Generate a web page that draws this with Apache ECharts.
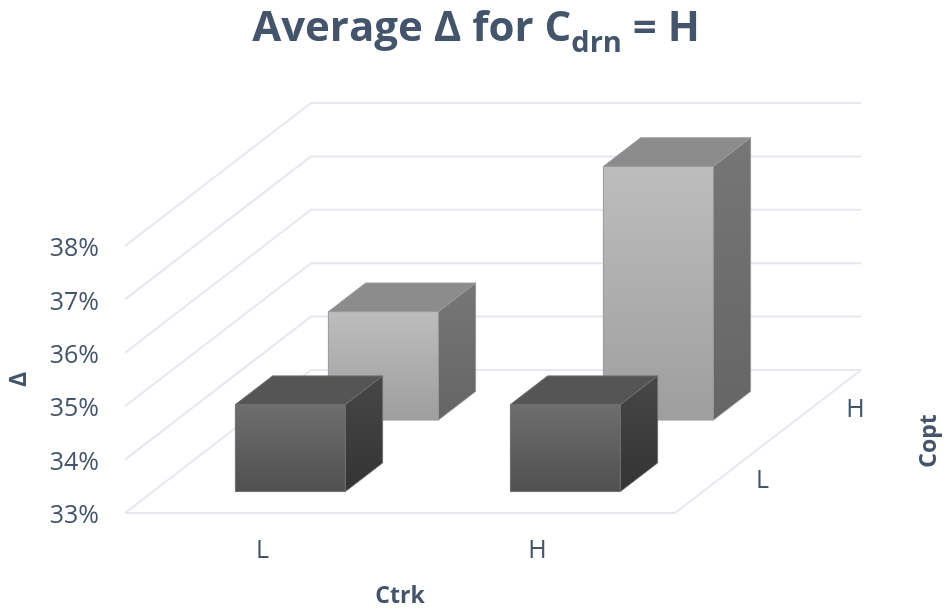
<!DOCTYPE html>
<html>
<head>
<meta charset="utf-8">
<style>
  html, body { margin: 0; padding: 0; background: #fff; }
  #box { width: 945px; height: 609px; }
</style>
</head>
<body>
<div id="box"></div>
<script src="https://cdn.jsdelivr.net/npm/echarts@6/dist/echarts.min.js"></script>
<script>
const ctrk = ['L', 'H'];
const copt = ['L', 'H'];
const yTicks = [33, 34, 35, 36, 37, 38];
const coptL = [34.63, 34.63];
const coptH = [35.03, 37.75];

const textColor = '#44546A';
const font = '"Open Sans"';
const wallColor = '#E5E8EF';
// how far the full depth of the floor shifts a point on screen
const depthX = 186;
const depthY = -143;

const myChart = echarts.init(document.getElementById('box'));

const shift = (p, d) => [p[0] + d * depthX, p[1] + d * depthY];

const line = (a, b) => ({
  type: 'line',
  shape: { x1: a[0], y1: a[1], x2: b[0], y2: b[1] },
  style: { stroke: wallColor, lineWidth: 2 }
});

const walls = (params, api) => {
  const t = api.value(0);
  const a = api.coord([0, t]);
  const band = api.size([1, 0])[0];
  const left = [a[0] - band / 2, a[1]];
  const right = [a[0] + 1.5 * band, a[1]];
  const back = shift(left, 1);
  const els = [line(left, back), line(back, shift(right, 1))];
  if (params.dataIndex === 0) {
    els.push(line(left, right), line(right, shift(right, 1)));
  }
  return { type: 'group', children: els };
};

const grad = (c0, c1) => new echarts.graphic.LinearGradient(0, 0, 0, 1, [
  { offset: 0, color: c0 },
  { offset: 1, color: c1 }
]);

const poly = (points, fill, stroke) => ({
  type: 'polygon',
  shape: { points },
  style: { fill, stroke, lineWidth: 1 }
});

// back row is light, front row is dark
const barColors = [
  { front: ['#6E6E6E', '#505050'], top: '#555555', side: ['#474747', '#333333'], stroke: '#6F6F6F' },
  { front: ['#BDBDBD', '#9E9E9E'], top: '#8C8C8C', side: ['#767676', '#656565'], stroke: '#999999' }
];

const bars = (params, api) => {
  const x = api.value(0);
  const row = api.value(1);
  const val = api.value(2);
  const band = api.size([1, 0])[0];
  const w = band * 0.4;
  const d0 = 0.15 + row * 0.5;
  const d1 = d0 + 0.2;
  const top = api.coord([x, val]);
  const base = api.coord([x, yTicks[0]]);
  const c = barColors[row];

  const tl = shift([top[0] - w / 2, top[1]], d0);
  const tr = shift([top[0] + w / 2, top[1]], d0);
  const bl = shift([base[0] - w / 2, base[1]], d0);
  const br = shift([base[0] + w / 2, base[1]], d0);
  const tlb = shift([top[0] - w / 2, top[1]], d1);
  const trb = shift([top[0] + w / 2, top[1]], d1);
  const brb = shift([base[0] + w / 2, base[1]], d1);

  return {
    type: 'group',
    children: [
      poly([tr, trb, brb, br], grad(c.side[0], c.side[1]), c.stroke),
      poly([tl, tlb, trb, tr], c.top, c.stroke),
      poly([tl, tr, br, bl], grad(c.front[0], c.front[1]), c.stroke)
    ]
  };
};

const depthLabels = (params, api) => {
  const row = api.value(0);
  const base = api.coord([1, yTicks[0]]);
  const band = api.size([1, 0])[0];
  const p = shift([base[0] + band / 2 + 41, base[1] + 4], 0.25 + row * 0.5);
  return {
    type: 'text',
    style: {
      x: p[0], y: p[1], text: copt[row], align: 'center', verticalAlign: 'middle',
      fill: textColor, font: '25px ' + font
    }
  };
};

const barData = [];
coptH.forEach((v, i) => barData.push([i, 1, v]));
coptL.forEach((v, i) => barData.push([i, 0, v]));

const option = {
  animation: false,
  backgroundColor: '#fff',
  title: {
    left: 471,
    top: 3,
    textAlign: 'center',
    text: '{a|Average Δ for C}{b|drn}{a| = H}',
    textStyle: {
      rich: {
        a: { fontFamily: font, fontSize: 42, fontWeight: 'bold', color: textColor, padding: [0, 0, 8, 0] },
        b: { fontFamily: font, fontSize: 29, fontWeight: 'bold', color: textColor, verticalAlign: 'bottom' }
      }
    }
  },
  grid: { left: 125, top: 246, width: 550, height: 268 },
  xAxis: {
    type: 'category',
    data: ctrk,
    axisLine: { show: false },
    axisTick: { show: false },
    axisLabel: { color: textColor, fontFamily: font, fontSize: 25, margin: 25 },
    name: 'Ctrk',
    nameLocation: 'middle',
    nameGap: 72,
    nameTextStyle: { color: textColor, fontFamily: font, fontSize: 23, fontWeight: 'bold' }
  },
  yAxis: {
    type: 'value',
    min: 33,
    max: 38,
    interval: 1,
    axisLine: { show: false },
    axisTick: { show: false },
    splitLine: { show: false },
    axisLabel: { color: textColor, fontFamily: font, fontSize: 25, margin: 26, formatter: '{value}%', verticalAlign: 'top', lineHeight: 6 },
    name: 'Δ',
    nameLocation: 'middle',
    nameGap: 94,
    nameTextStyle: { color: textColor, fontFamily: font, fontSize: 23, fontWeight: 'bold' }
  },
  graphic: [{
    type: 'text',
    x: 929,
    y: 441,
    rotation: Math.PI / 2,
    style: {
      text: 'Copt', align: 'center', verticalAlign: 'middle',
      fill: textColor, font: 'bold 23px ' + font
    }
  }],
  series: [
    { type: 'custom', clip: false, silent: true, z: 1, data: yTicks.map(t => [t]), encode: { y: 0 }, renderItem: walls },
    { type: 'custom', clip: false, silent: true, z: 2, data: barData, encode: { x: 0, y: 2 }, renderItem: bars },
    { type: 'custom', clip: false, silent: true, z: 3, data: copt.map((c, i) => [i]), renderItem: depthLabels }
  ]
};
option && myChart.setOption(option);
window.addEventListener('resize', function () {
  myChart.resize();
});
</script>
</body>
</html>
